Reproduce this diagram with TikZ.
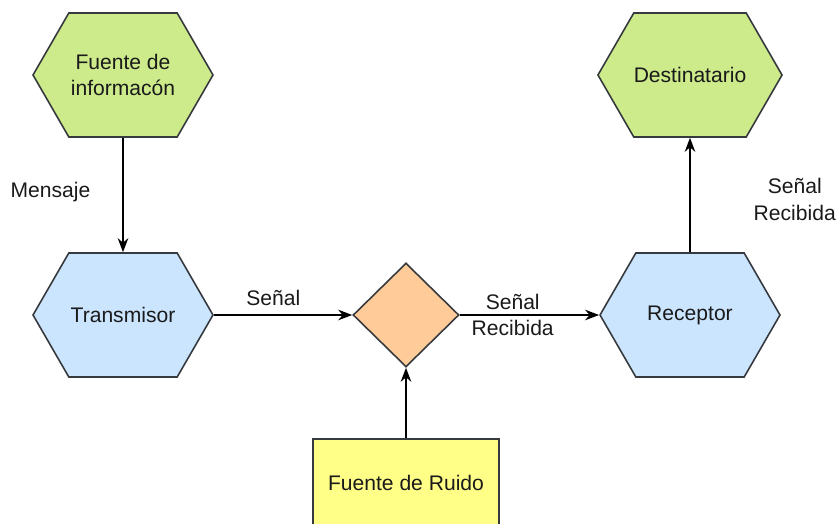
\documentclass[tikz,border=0pt]{standalone}
\usepackage{fontspec}
\setmainfont{Liberation Sans}
\usetikzlibrary{shapes.symbols,shapes.geometric,arrows.meta}
\definecolor{verdeclaro}{HTML}{CDEB8B}
\definecolor{azulclaro}{HTML}{CCE5FF}
\definecolor{naranja}{HTML}{FFCC99}
\definecolor{amarillo}{HTML}{FFFF88}
\definecolor{borde}{HTML}{36393D}
\definecolor{texto}{HTML}{1A1A1A}
\tikzset{
  hexa/.style={signal, signal to=east and west, signal pointer angle=120,
    draw=borde, line width=0.9pt, minimum width=3.6cm, minimum height=2.48cm,
    inner sep=0pt, align=center, text=texto, font=\fontsize{12}{15}\selectfont},
  rombo/.style={diamond, draw=borde, fill=naranja, line width=0.9pt,
    minimum width=2.12cm, minimum height=2.08cm, inner sep=0pt},
  caja/.style={rectangle, draw=borde, fill=amarillo, line width=0.9pt,
    minimum width=3.72cm, minimum height=1.76cm, text=texto,
    font=\fontsize{12}{15}\selectfont},
  flecha/.style={-{Stealth[length=2.8mm,width=2.1mm,inset=0.9mm]}, line width=1pt},
  etiqueta/.style={align=center, text=texto, font=\fontsize{12}{15}\selectfont}
}
\begin{document}
\begin{tikzpicture}[x=0.02cm, y=-0.02cm]
    \useasboundingbox (0,0) rectangle (840,524);
    % bloques
    \node[hexa, fill=verdeclaro] (fuente) at (123,75) {Fuente de\\informacón};
    \node[hexa, fill=azulclaro] (transmisor) at (123,315) {Transmisor};
    \node[rombo] (canal) at (406,315) {};
    \node[hexa, fill=azulclaro] (receptor) at (690,315) {Receptor};
    \node[hexa, fill=verdeclaro] (destino) at (690,75) {Destinatario};
    \node[caja] (ruido) at (406,483) {Fuente de Ruido};
    % conexiones
    \draw[flecha] (fuente.south) -- (transmisor.north)
        node[etiqueta, pos=0.47, left=0.52cm] {Mensaje};
    \draw[flecha] (transmisor.east) -- (canal.west)
        node[etiqueta, pos=0.43, above=0.05cm] {Señal};
    \draw[flecha] (canal.east) -- (receptor.west)
        node[etiqueta, pos=0.38] {Señal\\Recibida};
    \draw[flecha] (ruido.north) -- (canal.south);
    \draw[flecha] (receptor.north) -- (destino.south)
        node[etiqueta, pos=0.46, right=1.14cm] {Señal\\Recibida};
\end{tikzpicture}
\end{document}
